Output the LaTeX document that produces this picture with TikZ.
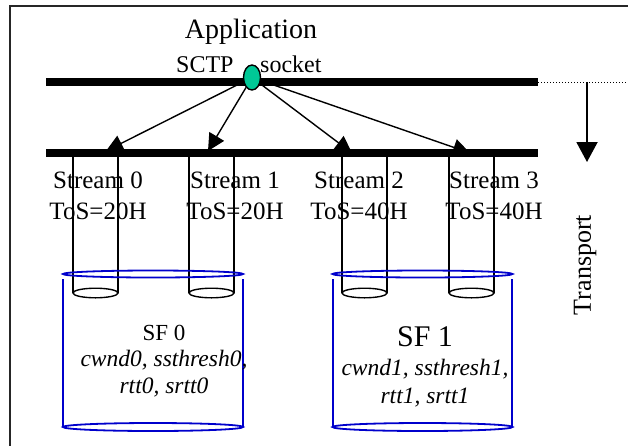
\documentclass[tikz,border=0pt]{standalone}
\usepackage{fontspec}
\setmainfont{Liberation Serif}
\usetikzlibrary{arrows.meta,shapes.geometric}
\definecolor{sockgreen}{RGB}{0,200,150}
\definecolor{sfblue}{RGB}{0,0,204}
\begin{document}
\begin{tikzpicture}[x=1pt,y=-1pt,
  bar/.style={line width=7.5pt},
  lbl/.style={inner sep=0pt, anchor=base, font=\fontsize{25}{30}\selectfont},
  ital/.style={inner sep=0pt, anchor=base, font=\fontsize{23.5}{28}\selectfont\itshape},
  cyl/.style={draw=sfblue, line width=1.8pt},
  pipe/.style={line width=1.4pt},
  fanarrow/.style={line width=1.4pt, -{Triangle[length=17pt,width=17pt]}},
]
\useasboundingbox (0,0) rectangle (628,445);
\begin{scope}
  \clip (0,0) rectangle (628,445);
  \draw[line width=2pt, black!85] (10,6) rectangle (700,520);
\end{scope}

% texts at top
\node[lbl, font=\fontsize{28}{32}\selectfont] (app) at (251,38) {Application};
\node[lbl, font=\fontsize{24}{28}\selectfont, anchor=base west] (sctp) at (176,72) {SCTP};
\node[lbl, font=\fontsize{24}{28}\selectfont, anchor=base west] (sockt) at (260,72) {socket};

% bars
\coordinate (tb0) at (46,82);
\coordinate (tb1) at (538,82);
\coordinate (bb0) at (46,153);
\coordinate (bb1) at (538,153);
\draw[bar] (tb0) -- (tb1);
\draw[bar] (bb0) -- (bb1);

% dotted line and down arrow
\coordinate (dotend) at (628,82);
\coordinate (dn0) at (587,82);
\coordinate (dn1) at (587,162);
\draw[dotted, line width=1pt] (tb1) -- (dotend);
\draw[line width=2pt, -{Triangle[length=20pt,width=21pt]}] (dn0) -- (dn1);
\node[font=\fontsize{26}{30}\selectfont, rotate=90, inner sep=0pt] (transport) at (585,265) {Transport};

% stream pipes
\foreach \cx/\n in {95.5/0, 211.5/1, 364.5/2, 471.5/3}{
  \coordinate (pl\n) at (\cx-22.5,153);
  \coordinate (pr\n) at (\cx+22.5,153);
  \coordinate (ql\n) at (\cx-22.5,293);
  \coordinate (qr\n) at (\cx+22.5,293);
  \draw[pipe] (pl\n) -- (ql\n);
  \draw[pipe] (pr\n) -- (qr\n);
  \draw[pipe] (\cx,293) ellipse [x radius=22.5pt, y radius=4.8pt];
}

% stream labels
\node[lbl] (s0) at (98,188) {Stream 0};
\node[lbl] (t0) at (98,219) {ToS=20H};
\node[lbl] (s1) at (235,188) {Stream 1};
\node[lbl] (t1) at (235,219) {ToS=20H};
\node[lbl] (s2) at (359,188) {Stream 2};
\node[lbl] (t2) at (359,219) {ToS=40H};
\node[lbl] (s3) at (494,188) {Stream 3};
\node[lbl] (t3) at (494,219) {ToS=40H};

% socket and fan-out arrows
\node[ellipse, draw, line width=1.4pt, fill=sockgreen, minimum width=17pt, minimum height=25pt, inner sep=0pt] (sock) at (252,77.5) {};
\coordinate (a0) at (106,151);
\coordinate (a1) at (208,151);
\coordinate (a2) at (352,153);
\coordinate (a3) at (470,153);
\foreach \i in {0,1,2,3}{
  \draw[fanarrow] (sock) -- (a\i);
}

% SF cylinders
\foreach \cx/\lx/\rx/\n in {153/63/243/0, 422.5/333/512/1}{
  \draw[cyl] (\cx,274) ellipse [x radius=90pt, y radius=3.5pt];
  \draw[cyl] (\cx,427) ellipse [x radius=90pt, y radius=4pt];
  \coordinate (cl\n) at (\lx,279);
  \coordinate (cr\n) at (\rx,279);
  \coordinate (dl\n) at (\lx,427);
  \coordinate (dr\n) at (\rx,427);
  \draw[cyl] (cl\n) -- (dl\n);
  \draw[cyl] (cr\n) -- (dr\n);
}

\node[lbl, font=\fontsize{23}{28}\selectfont] (sf0) at (164,340) {SF 0};
\node[ital] (v0a) at (164,366) {cwnd0, ssthresh0,};
\node[ital] (v0b) at (164,393) {rtt0, srtt0};
\node[lbl, font=\fontsize{30}{34}\selectfont] (sf1) at (425,346) {SF 1};
\node[ital] (v1a) at (425,375) {cwnd1, ssthresh1,};
\node[ital] (v1b) at (425,403) {rtt1, srtt1};
\end{tikzpicture}
\end{document}
